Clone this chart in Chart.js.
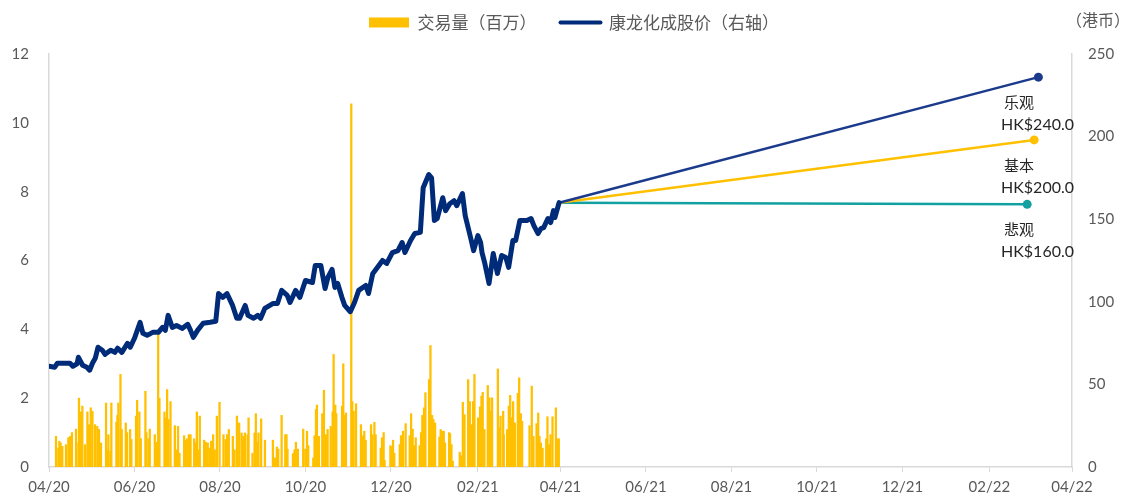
<!DOCTYPE html>
<html>
<head>
<meta charset="utf-8">
<script src="https://cdn.jsdelivr.net/npm/chart.js@4.4.1/dist/chart.umd.min.js"></script>
<style>
  html, body { margin: 0; padding: 0; background: #fff; }
  #wrap { width: 1140px; height: 500px; }
</style>
</head>
<body>
<div id="wrap"><canvas id="chart"></canvas></div>
<script>
// all x values are days counted from 2020-04-01
const startDate = '2020-04-01';
const tickDates = ['2020-04-01', '2020-06-01', '2020-08-01', '2020-10-01', '2020-12-01', '2021-02-01', '2021-04-01',
  '2021-06-01', '2021-08-01', '2021-10-01', '2021-12-01', '2022-02-01', '2022-04-01'];
const tickLabels = ['04/20', '06/20', '08/20', '10/20', '12/20', '02/21', '04/21', '06/21', '08/21', '10/21', '12/21', '02/22', '04/22'];

// share price, HKD (right axis)
const priceDay = [0, 4, 6, 15, 17, 20, 21, 24, 27, 29, 31, 33, 35, 38, 40, 44, 47, 49, 52, 56, 58, 61, 65, 67, 70, 74, 78, 81, 83, 85,
  88, 91, 95, 99, 101, 103, 106, 110, 115, 119, 121, 124, 127, 131, 134, 136, 140, 142, 146, 149, 151, 154, 160, 163, 166, 170, 172, 176, 179,
  183, 188, 190, 194, 197, 199, 202, 204, 206, 209, 211, 215, 218, 221, 226, 228, 231, 238, 241, 245, 249, 252, 254, 258, 261, 265, 267,
  271, 273, 275, 277, 281, 283, 286, 289, 291, 295, 297, 301, 303, 306, 308, 309, 311, 314, 317, 320, 323, 326, 328, 331, 333, 336,
  341, 344, 346, 349, 351, 353, 356, 358, 360, 361, 364];
const priceValue = [61, 60.4, 62.8, 62.8, 61, 62.5, 66.4, 61.6, 60.4, 58.6, 62.8, 65.8, 72.5, 70.7, 68.2, 70.7, 69.4, 71.9, 69.4, 74.9,
  72.5, 77.9, 87.6, 80.9, 79.7, 81.5, 81.5, 84.5, 82.7, 91.8, 84.5, 85.7, 83.9, 86.4, 82.7, 78.5, 82.7, 87, 87.6, 88.2, 105, 102.7, 105,
  97.8, 90, 90, 97.8, 91.8, 90, 91.8, 90, 96, 99, 99, 106.9, 103.9, 99.6, 106.9, 102.7,
  112.9, 111.7, 122, 122, 108, 114.7, 119.6, 108.7, 111.1, 102.7, 97.8, 94, 99.6, 106.9, 109.9, 105, 117, 125, 123.2, 129.8, 131, 135.9,
  129.8, 137.1, 141.3, 142, 169, 177, 175, 149.2, 150.4, 163, 155.2, 159.4, 161.2, 158.2, 165.5, 152.2, 138.3, 131, 140.1, 135.9, 129.8,
  123.2, 111.1, 129.2, 117.1, 128, 126.8, 120.8, 137.1, 137.1, 149.2, 149.2, 150.4, 146.1, 141.3, 144.3, 144.9, 150.4, 148, 155.2, 151, 160];

// daily volume, millions of shares (left axis)
const volDay = [5.0, 6.7, 7.4, 8.3, 9.5, 12.1, 13.8, 15.0, 16.4, 19.3, 21.0, 21.4, 22.9, 23.8, 25.7, 27.4, 28.6, 29.8, 31.0, 32.9, 34.5,
  35.7, 37.1, 40.7, 41.9, 42.4, 43.8, 44.5, 48.1, 48.8, 49.5, 51.0, 51.9, 54.8, 55.7, 57.9, 58.8, 62.1, 62.9, 64.5, 65.5, 68.8, 69.5,
  71.0, 71.9, 75.5, 76.9, 77.9, 78.8, 82.4, 83.3, 84.3, 85.2, 86.7, 89.8, 91.0, 92.1, 93.1, 96.4, 97.4, 98.6, 99.8, 101.0, 103.6, 104.5,
  105.5, 106.7, 107.6, 110.7, 111.9, 113.3, 114.8, 115.7, 117.1, 118.3, 119.8, 121.7, 124.5, 126.0, 127.1, 128.3, 131.2, 132.4, 134.1,
  135.7, 137.4, 138.6, 139.8, 141.7, 142.4, 145.2, 146.7, 147.6, 148.8, 149.5, 151.4, 154.1, 159.8, 161.2, 162.6, 163.6, 166.0, 168.6,
  169.5, 170.2, 174.1, 175.2, 176.2, 177.6, 181.4, 182.9, 184.1, 185.0, 188.6, 189.5, 190.5, 191.2, 192.6, 195.0, 196.2, 197.6, 198.8,
  201.0, 202.4, 203.1, 204.3, 205.0, 209.1, 210.0, 211.0, 211.9, 215.7, 216.4, 217.4, 219.1, 222.6, 223.8, 225.0, 226.0, 229.8, 230.7,
  232.2, 233.1, 236.7, 237.6, 238.8, 239.5, 243.6, 244.3, 245.5, 246.4, 250.3, 251.2, 252.6, 254.5, 257.4, 258.4, 259.5, 260.5, 261.7,
  264.5, 265.5, 266.4, 267.6, 268.6, 271.2, 272.2, 273.4, 274.3, 275.5, 278.6, 279.5, 280.5, 281.7, 282.6, 285.5, 286.2, 287.2, 288.1,
  293.1, 294.3, 295.3, 296.5, 299.1, 300.3, 301.5, 302.6, 303.6, 306.2, 307.6, 308.6, 309.5, 310.7, 313.1, 314.3, 315.5, 316.2, 320.3,
  321.7, 322.2, 324.1, 324.5, 326.9, 328.1, 329.1, 330.3, 331.2, 332.4, 334.5, 335.5, 336.7, 337.6, 342.9, 344.5, 345.7, 347.9, 349.1,
  350.0, 351.0, 352.2, 354.8, 355.7, 356.7, 357.9, 359.3, 361.7, 362.9, 363.8];
const volValue = [0.89, 0.55, 0.75, 0.7, 0.6, 0.65, 0.85, 0.89, 1.0, 1.1, 0.7, 2.0, 1.6, 1.77, 0.65, 1.6, 1.23, 1.72, 1.62, 1.23, 1.18,
  1.09, 0.7, 1.86, 0.5, 0.94, 0.46, 1.86, 1.3, 1.5, 1.86, 2.69, 1.09, 1.28, 1.0, 1.09, 0.8, 1.48, 1.94, 1.6, 0.82, 2.2, 1.0,
  0.82, 1.1, 0.94, 0.72, 3.87, 2.0, 1.6, 1.43, 2.25, 1.38, 1.9, 1.2, 0.5, 1.18, 0.4, 0.91, 0.78, 0.82, 0.94, 0.94, 0.82, 0.7,
  1.6, 0.5, 1.48, 0.78, 0.72, 0.7, 0.55, 0.75, 0.94, 0.5, 1.48, 1.88, 0.94, 0.8, 0.94, 1.09, 0.89, 0.5, 1.48,
  1.28, 0.99, 0.89, 0.99, 0.94, 1.43, 0.4, 0.99, 1.55, 0.72, 0.99, 1.4, 0.78, 0.78, 0.26, 0.58, 0.52, 1.5, 0.94,
  0.94, 0.52, 0.39, 0.5, 0.72, 0.52, 1.1, 0.52, 1.04, 0.62, 0.26, 0.91, 1.67, 1.8, 0.89, 1.55, 2.23, 0.94, 1.09,
  1.18, 1.6, 3.27, 1.8, 1.55, 1.77, 3.0, 1.5, 1.57, 10.55, 1.9, 1.62, 1.84, 1.23, 0.91, 1.04, 0.78, 1.23, 0.94,
  1.3, 0.94, 0.55, 0.85, 1.0, 0.19, 0.62, 0.58, 0.78, 0.4, 0.65, 0.91, 1.04, 1.26, 0.91, 1.55, 1.1, 0.62, 0.85,
  0.62, 1.0, 1.5, 1.72, 2.16, 2.54, 3.53, 1.5, 1.38, 1.28, 0.87, 1.09, 1.04, 1.04, 0.7, 1.0, 0.97, 0.65, 0.17,
  0.43, 0.33, 1.88, 1.52, 2.54, 1.9, 1.23, 1.9, 2.69, 1.43, 1.75, 2.06, 2.17, 1.09, 2.37, 2.01, 1.62, 2.01, 2.85,
  1.14, 1.48, 1.62, 0.94, 1.09, 1.77, 2.08, 1.43, 1.9, 1.28, 2.14, 2.59, 1.55, 1.33, 1.2, 2.35, 0.89, 1.26, 1.57,
  0.89, 0.7, 0.55, 0.82, 1.46, 0.65, 0.94, 1.46, 1.72, 0.82, 0.82];

// target price scenarios
const scenarioNames = ['乐观', '基本', '悲观'];
const scenarioTarget = [240, 200, 160];
const scenarioStartDay = 364;
const scenarioStartValue = 160;
const scenarioEndDay = [706, 703, 698];
const scenarioEndValue = [236, 198, 159];
const scenarioColors = ['#1B3A8C', '#FFC000', '#12A0A0'];

const dayOf = (s) => Math.round((Date.parse(s) - Date.parse(startDate)) / 86400000);
const tickDays = tickDates.map(dayOf);

const LATIN = 'Lato, "Noto Sans CJK SC", sans-serif';
const CJK = '"Noto Sans CJK SC", sans-serif';

const scenarioSets = scenarioNames.map((name, i) => ({
  type: 'line',
  label: name,
  data: [{ x: scenarioStartDay, y: scenarioStartValue }, { x: scenarioEndDay[i], y: scenarioEndValue[i] }],
  xAxisID: 'x',
  yAxisID: 'y1',
  borderColor: scenarioColors[i],
  backgroundColor: scenarioColors[i],
  pointBackgroundColor: scenarioColors[i],
  pointBorderWidth: 0,
  borderWidth: 2.5,
  pointRadius: [0, 4.5],
  tension: 0,
  order: 2,
}));

const labelPlugin = {
  id: 'scenarioLabels',
  afterDraw(chart) {
    const { ctx, chartArea, scales } = chart;
    ctx.save();
    ctx.textBaseline = 'middle';
    ctx.textAlign = 'left';
    ctx.fillStyle = '#595959';
    ctx.font = '16px ' + CJK;
    ctx.fillText('（港币）', chartArea.right - 6, 20);
    scenarioNames.forEach((name, i) => {
      const y = scales.y1.getPixelForValue(scenarioEndValue[i]);
      ctx.fillStyle = '#262626';
      ctx.font = '15px ' + CJK;
      ctx.fillText(name, chartArea.right - 68, y + 25);
      ctx.font = '16px ' + LATIN;
      ctx.fillText('HK$' + scenarioTarget[i].toFixed(1), chartArea.right - 71, y + 48);
    });
    ctx.restore();
  }
};

new Chart(document.getElementById('chart'), {
  type: 'line',
  data: {
    datasets: [
      {
        type: 'bar',
        label: '交易量（百万）',
        data: volDay.map((d, i) => ({ x: d, y: volValue[i] })),
        xAxisID: 'x',
        yAxisID: 'y',
        backgroundColor: '#FFC000',
        barThickness: 1.6,
        order: 4,
      },
      {
        type: 'line',
        label: '康龙化成股价（右轴）',
        data: priceDay.map((d, i) => ({ x: d, y: priceValue[i] })),
        xAxisID: 'x',
        yAxisID: 'y1',
        borderColor: '#002B78',
        borderWidth: 5,
        borderJoinStyle: 'round',
        borderCapStyle: 'round',
        pointRadius: 0,
        tension: 0,
        order: 1,
      },
      ...scenarioSets,
    ],
  },
  options: {
    responsive: true,
    maintainAspectRatio: false,
    animation: false,
    layout: { padding: { top: -10, bottom: 0, left: 8, right: 0 } },
    plugins: {
      tooltip: { enabled: false },
      legend: {
        position: 'top',
        labels: {
          usePointStyle: true,
          pointStyleWidth: 40,
          boxHeight: 10,
          padding: 24,
          color: '#595959',
          font: { family: CJK, size: 17 },
          generateLabels: () => [
            { text: '交易量（百万）', fillStyle: '#FFC000', strokeStyle: '#FFC000', lineWidth: 0, pointStyle: 'rect', datasetIndex: 0, fontColor: '#595959' },
            { text: '康龙化成股价（右轴）', fillStyle: '#002B78', strokeStyle: '#002B78', lineWidth: 4, lineCap: 'round', pointStyle: 'line', datasetIndex: 1, fontColor: '#595959' },
          ],
        },
      },
    },
    scales: {
      // empty spacer between legend and plot area
      xTop: {
        type: 'linear',
        position: 'top',
        display: true,
        min: 0,
        max: 730,
        afterFit: (scale) => { scale.height = 13; },
        ticks: { display: false },
        grid: { display: false },
        border: { display: false },
      },
      x: {
        type: 'linear',
        min: 0,
        max: 730,
        offset: false,
        afterBuildTicks: (scale) => { scale.ticks = tickDays.map((v) => ({ value: v })); },
        afterFit: (scale) => { scale.height = 33; },
        ticks: {
          autoSkip: false,
          maxRotation: 0,
          padding: 6,
          color: '#595959',
          font: { family: LATIN, size: 15 },
          callback: (value) => tickLabels[tickDays.indexOf(value)],
        },
        grid: { drawOnChartArea: false, drawTicks: true, tickLength: 5, color: '#D9D9D9', offset: false },
        border: { display: true, color: '#D9D9D9', width: 1.5 },
      },
      y: {
        position: 'left',
        min: 0,
        max: 12,
        afterFit: (scale) => { scale.width = 41; },
        ticks: { stepSize: 2, padding: 20, color: '#595959', font: { family: LATIN, size: 15 } },
        grid: { display: false, drawTicks: false },
        border: { display: true, color: '#D9D9D9', width: 1.5 },
      },
      y1: {
        position: 'right',
        min: 0,
        max: 250,
        afterFit: (scale) => { scale.width = 68; },
        ticks: { stepSize: 50, padding: 16, color: '#595959', font: { family: LATIN, size: 15 } },
        grid: { display: false, drawTicks: false },
        border: { display: true, color: '#D9D9D9', width: 1.5 },
      },
    },
  },
  plugins: [labelPlugin],
});
</script>
</body>
</html>
